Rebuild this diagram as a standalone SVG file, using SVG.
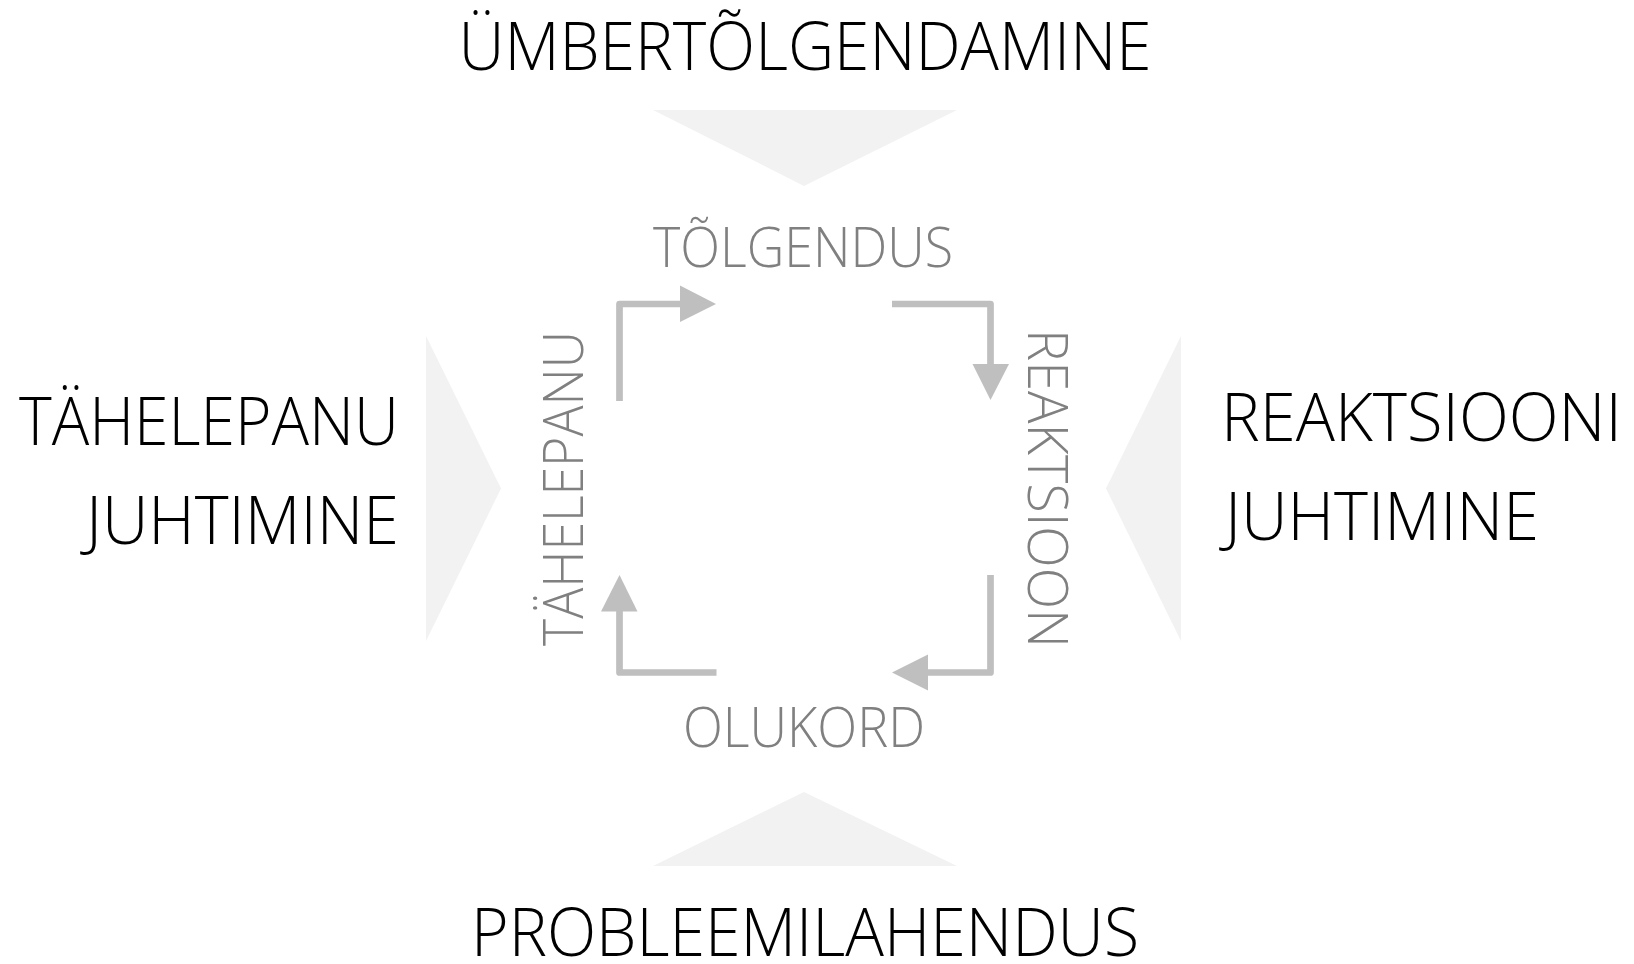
<svg xmlns="http://www.w3.org/2000/svg" width="1634" height="964" viewBox="0 0 1634 964">
<style>
.big{font-family:"Open Sans","Lato","Liberation Sans",sans-serif;font-weight:300;font-size:67px;fill:#000}
.small{font-family:"Open Sans","Lato","Liberation Sans",sans-serif;font-weight:300;font-size:55px;fill:#808080}
.tri{fill:#f2f2f2}
.ln{fill:none;stroke:#bfbfbf;stroke-width:6.7;stroke-linejoin:round}
.hd{fill:#bfbfbf}
</style>
<rect width="1634" height="964" fill="#fff"/>
<g id="top-triangle"><polygon class="tri" points="653,110 957,110 804,186"/></g>
<g id="bottom-triangle"><polygon class="tri" points="653,866 957,866 804,792"/></g>
<g id="left-triangle"><polygon class="tri" points="426,336 426,641 501,488.5"/></g>
<g id="right-triangle"><polygon class="tri" points="1181,336 1181,641 1106,488.5"/></g>
<g id="umbertolgendamine"><text class="big" x="458.5" y="70" textLength="693" lengthAdjust="spacingAndGlyphs">ÜMBERTÕLGENDAMINE</text></g>
<g id="probleemilahendus"><text class="big" x="471" y="956" textLength="668" lengthAdjust="spacingAndGlyphs">PROBLEEMILAHENDUS</text></g>
<g id="tahelepanu-juhtimine">
<text class="big" x="19" y="445" textLength="380" lengthAdjust="spacingAndGlyphs">TÄHELEPANU</text>
<text class="big" x="86" y="544" textLength="313" lengthAdjust="spacingAndGlyphs">JUHTIMINE</text>
</g>
<g id="reaktsiooni-juhtimine">
<text class="big" x="1221" y="441" textLength="401" lengthAdjust="spacingAndGlyphs">REAKTSIOONI</text>
<text class="big" x="1225" y="540" textLength="314" lengthAdjust="spacingAndGlyphs">JUHTIMINE</text>
</g>
<g id="tolgendus"><text class="small" x="653" y="267" textLength="300" lengthAdjust="spacingAndGlyphs">TÕLGENDUS</text></g>
<g id="olukord"><text class="small" x="683" y="747" textLength="242" lengthAdjust="spacingAndGlyphs">OLUKORD</text></g>
<g id="tahelepanu"><text class="small" transform="translate(582.5,488.5) rotate(-90)" x="-157.5" y="0" textLength="315" lengthAdjust="spacingAndGlyphs">TÄHELEPANU</text></g>
<g id="reaktsioon"><text class="small" transform="translate(1027.5,488.5) rotate(90)" x="-159.5" y="0" textLength="319" lengthAdjust="spacingAndGlyphs">REAKTSIOON</text></g>
<g id="connectors">
<path class="ln" d="M619.5,401 V304 H682"/>
<polygon class="hd" points="680,285.5 680,322 716,304"/>
<path class="ln" d="M892,304 H990.5 V366"/>
<polygon class="hd" points="972.5,364 1009,364 990.5,400"/>
<path class="ln" d="M990.5,575 V672.5 H926"/>
<polygon class="hd" points="928,654.5 928,690.5 892,672.5"/>
<path class="ln" d="M716.5,672.5 H619.5 V609"/>
<polygon class="hd" points="601,611.5 637.5,611.5 619.5,575"/>
</g>
</svg>
